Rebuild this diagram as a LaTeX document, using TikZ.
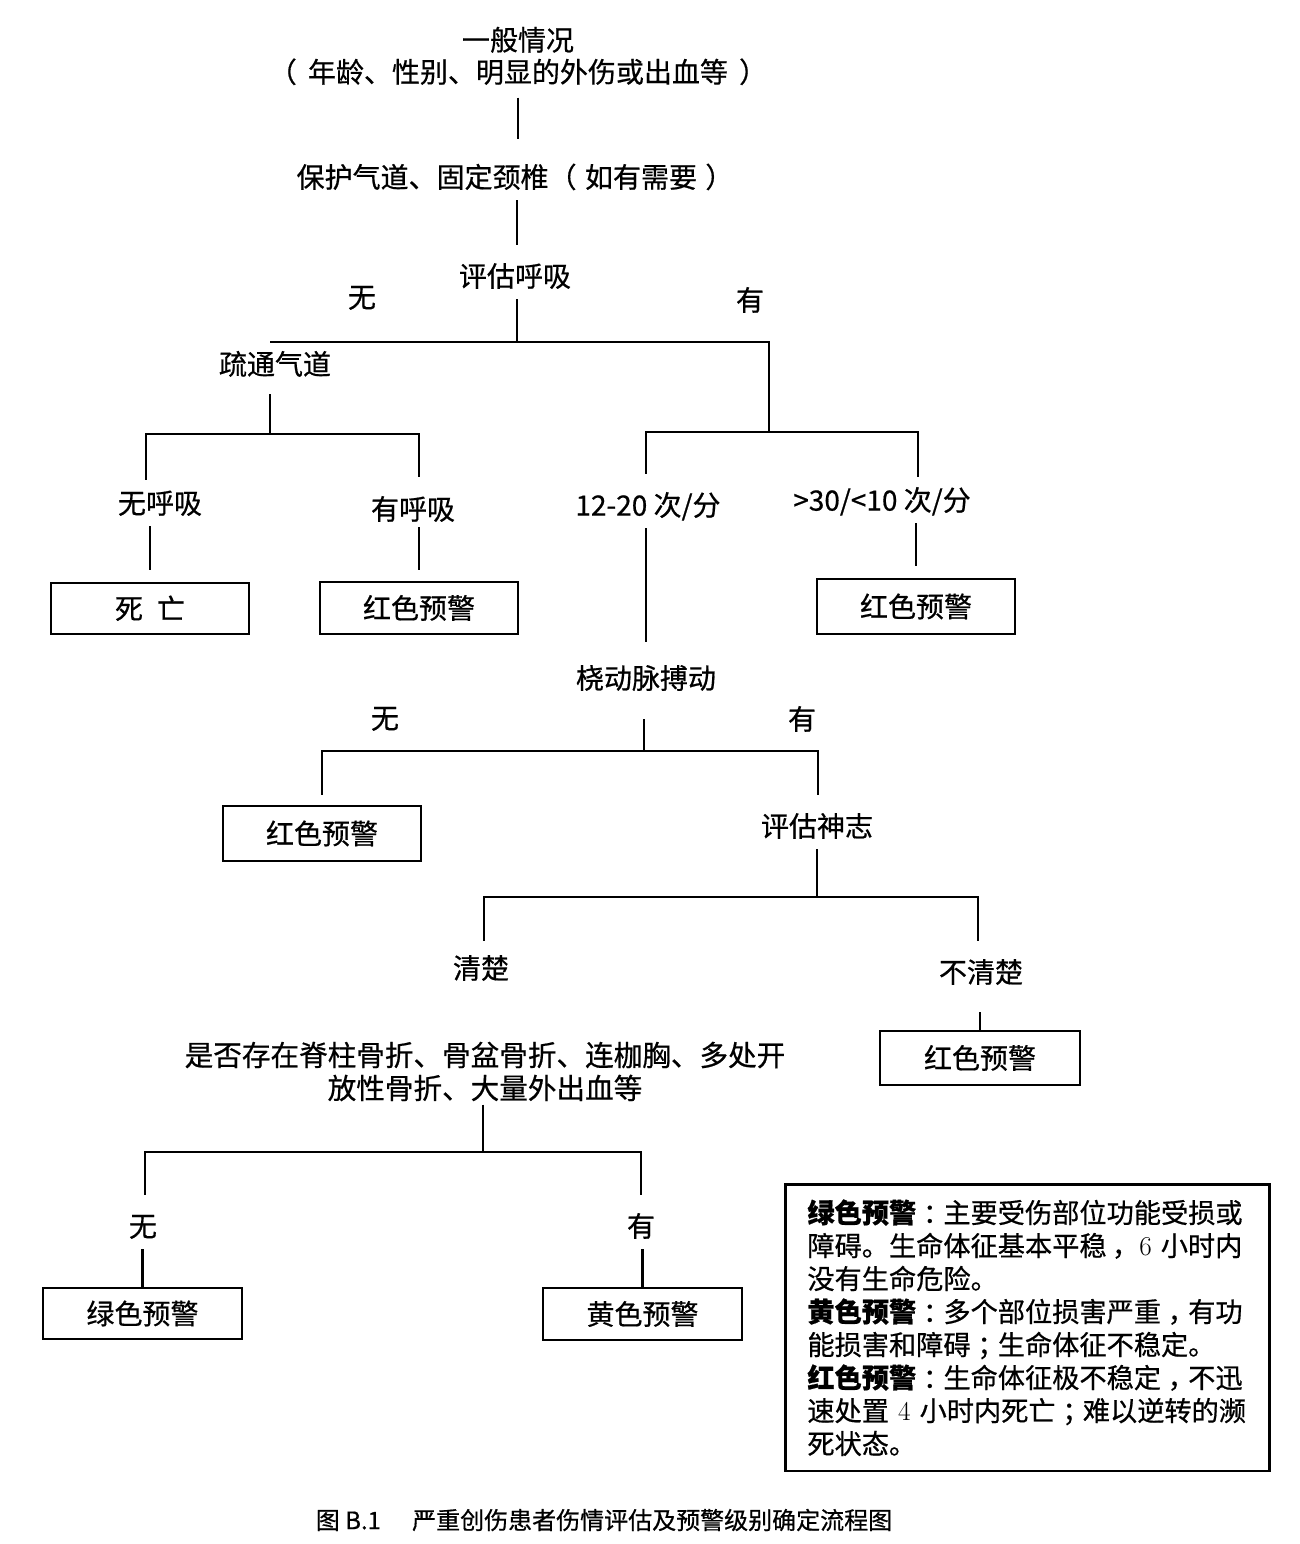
\documentclass[tikz,border=0pt]{standalone}
\usepackage{fontspec}
\newfontfamily\cjk{Noto Sans CJK SC}[FakeBold=0.6]
\newcommand{\cpu}[1]{\hspace{0.25em}#1\hspace{-0.25em}}
\begin{document}
\begin{tikzpicture}[x=1pt,y=-1pt,
  line width=2.8pt,
  every node/.style={font=\cjk\fontsize{28}{32}\selectfont},
  txt/.style={inner xsep=2pt, inner ysep=8pt, text height=24.6pt, text depth=3.4pt},
  box/.style={draw, line width=2.8pt, minimum width=198pt, minimum height=53pt, inner sep=0pt, text height=24.6pt, text depth=3.4pt},
  two/.style={align=center, inner xsep=2pt, inner ysep=0pt}
]
\useasboundingbox (0,0) rectangle (1299,1544);
\fill[white] (0,0) rectangle (1299,1544);

% text nodes
\node[two, inner ysep=11pt] (t1) at (518,56) {一般情况\\（\hspace{0.4em}年龄、性别、明显的外伤或出血等\hspace{0.4em}）};
\node[txt] (t2) at (515,177) {保护气道、固定颈椎（\hspace{0.3em}如有需要\hspace{0.3em}）};
\node[txt] (t3) at (515,276) {评估呼吸};
\node[txt] (lw1) at (362,297) {无};
\node[txt] (ly1) at (750,300) {有};
\node[txt] (sh) at (275,364) {疏通气道};
\node[txt] (nh) at (160,503) {无呼吸};
\node[txt] (yh) at (413,509) {有呼吸};
\node[box, minimum height=51pt] (b1) at (150,608.5) {死\hspace{0.5em}亡};
\node[box, minimum height=52pt] (b2) at (419,608) {红色预警};
\node[txt] (r1) at (648,505) {12-20 次/分};
\node[txt] (r2) at (882,500) {>30/<10 次/分};
\node[box, minimum height=55pt] (b3) at (916,606.5) {红色预警};
\node[txt] (p) at (646,678) {桡动脉搏动};
\node[txt] (lw2) at (385,718) {无};
\node[txt] (ly2) at (802,719) {有};
\node[box, minimum height=55pt] (b4) at (322,833.5) {红色预警};
\node[txt] (n) at (817,826) {评估神志};
\node[txt] (q1) at (481,968) {清楚};
\node[txt] (q2) at (981,972) {不清楚};
\node[box, minimum width=200pt, minimum height=54pt] (b5) at (980,1058) {红色预警};
\node[two, font=\cjk\fontsize{28.6}{33}\selectfont] (q) at (485,1071.5) {是否存在脊柱骨折、骨盆骨折、连枷胸、多处开\\放性骨折、大量外出血等};
\node[txt] (lw3) at (143,1226) {无};
\node[txt] (ly3) at (641,1226) {有};
\node[box, minimum width=199pt, minimum height=51pt] (b6) at (142.5,1313.5) {绿色预警};
\node[box, minimum width=199pt, minimum height=52pt] (b7) at (642.5,1314) {黄色预警};

\node[draw, line width=2.8pt, anchor=north west, inner xsep=22pt, inner ysep=15pt,
  text width=440pt, align=left, font=\cjk\fontsize{27.2}{33}\selectfont] (leg) at (784,1183)
{{\bfseries 绿色预警}\cpu{：}主要受伤部位功能受损或\\
障碍。生命体征基本平稳\hspace{0.2em}，{\rmfamily 6} 小时内\\
没有生命危险。\\
{\bfseries 黄色预警}\cpu{：}多个部位损害严重\cpu{，}有功\\
能损害和障碍\cpu{；}生命体征不稳定。\\
{\bfseries 红色预警}\cpu{：}生命体征极不稳定\cpu{，}不迅\\
速处置 {\rmfamily 4} 小时内死亡\cpu{；}难以逆转的濒\\
死状态。};

\node[font=\cjk\fontsize{24}{28}\selectfont] (cap) at (604,1520) {图 B.1\hspace{1.3em}严重创伤患者伤情评估及预警级别确定流程图};

% junctions
\coordinate (j1) at (517,342);
\coordinate (j1L) at (270,342);
\coordinate (j1R) at (769,342);
\coordinate (j2) at (769,432);
\coordinate (j2L) at (646,432);
\coordinate (j2R) at (918,432);
\coordinate (j3) at (270,434);
\coordinate (j3L) at (146,434);
\coordinate (j3R) at (419,434);
\coordinate (j4) at (644,751);
\coordinate (j4L) at (322,751);
\coordinate (j4R) at (818,751);
\coordinate (j5) at (817,897);
\coordinate (j5L) at (484,897);
\coordinate (j5R) at (978,897);
\coordinate (j6) at (483,1152);
\coordinate (j6L) at (145,1152);
\coordinate (j6R) at (641,1152);

% connectors
\draw[shorten >=15pt] (t1.south) -- (t1.south |- t2.north);
\draw[shorten >=8pt] (t2.south -| j1) -- (j1 |- t3.north);
\draw (j1 |- t3.south) -- (j1);
\draw (j1L) -- (j1R) -- (j2);
\draw[shorten <=7pt] (j3 |- sh.south) -- (j3);
\draw[shorten >=9pt] (j3L |- nh.north) -- (j3L) -- (j3R) -- (j3R |- yh.north);
\draw[shorten >=12pt] (b1.north |- nh.south) -- (b1.north);
\draw[shorten >=11pt, shorten <=-5pt] (b2.north |- yh.south) -- (b2.north);
\draw[shorten <=8pt] (j2L |- r1.north) -- (j2L) -- (j2R) -- (j2R |- r2.north);
\draw[shorten >=12pt] (b3.north |- r2.south) -- (b3.north);
\draw[shorten >=13pt] (j2L |- r1.south) -- (j2L |- p.north);
\draw[shorten <=18pt] (j4 |- p.south) -- (j4);
\draw[shorten <=10pt, shorten >=8pt] (b4.north) -- (j4L) -- (j4R) -- (j4R |- n.north);
\draw (j5 |- n.south) -- (j5);
\draw[shorten <=4pt, shorten >=8pt] (j5L |- q1.north) -- (j5L) -- (j5R) -- (j5R |- q2.north);
\draw[shorten <=17pt] (b5.north |- q2.south) -- (b5.north);
\draw[shorten <=2pt] (j6 |- q.south) -- (j6);
\draw[shorten <=8pt, shorten >=8pt] (j6L |- lw3.north) -- (j6L) -- (j6R) -- (j6R |- ly3.north);
\draw (b6.north |- lw3.south) -- (b6.north);
\draw (b7.north |- ly3.south) -- (b7.north);
\end{tikzpicture}
\end{document}
